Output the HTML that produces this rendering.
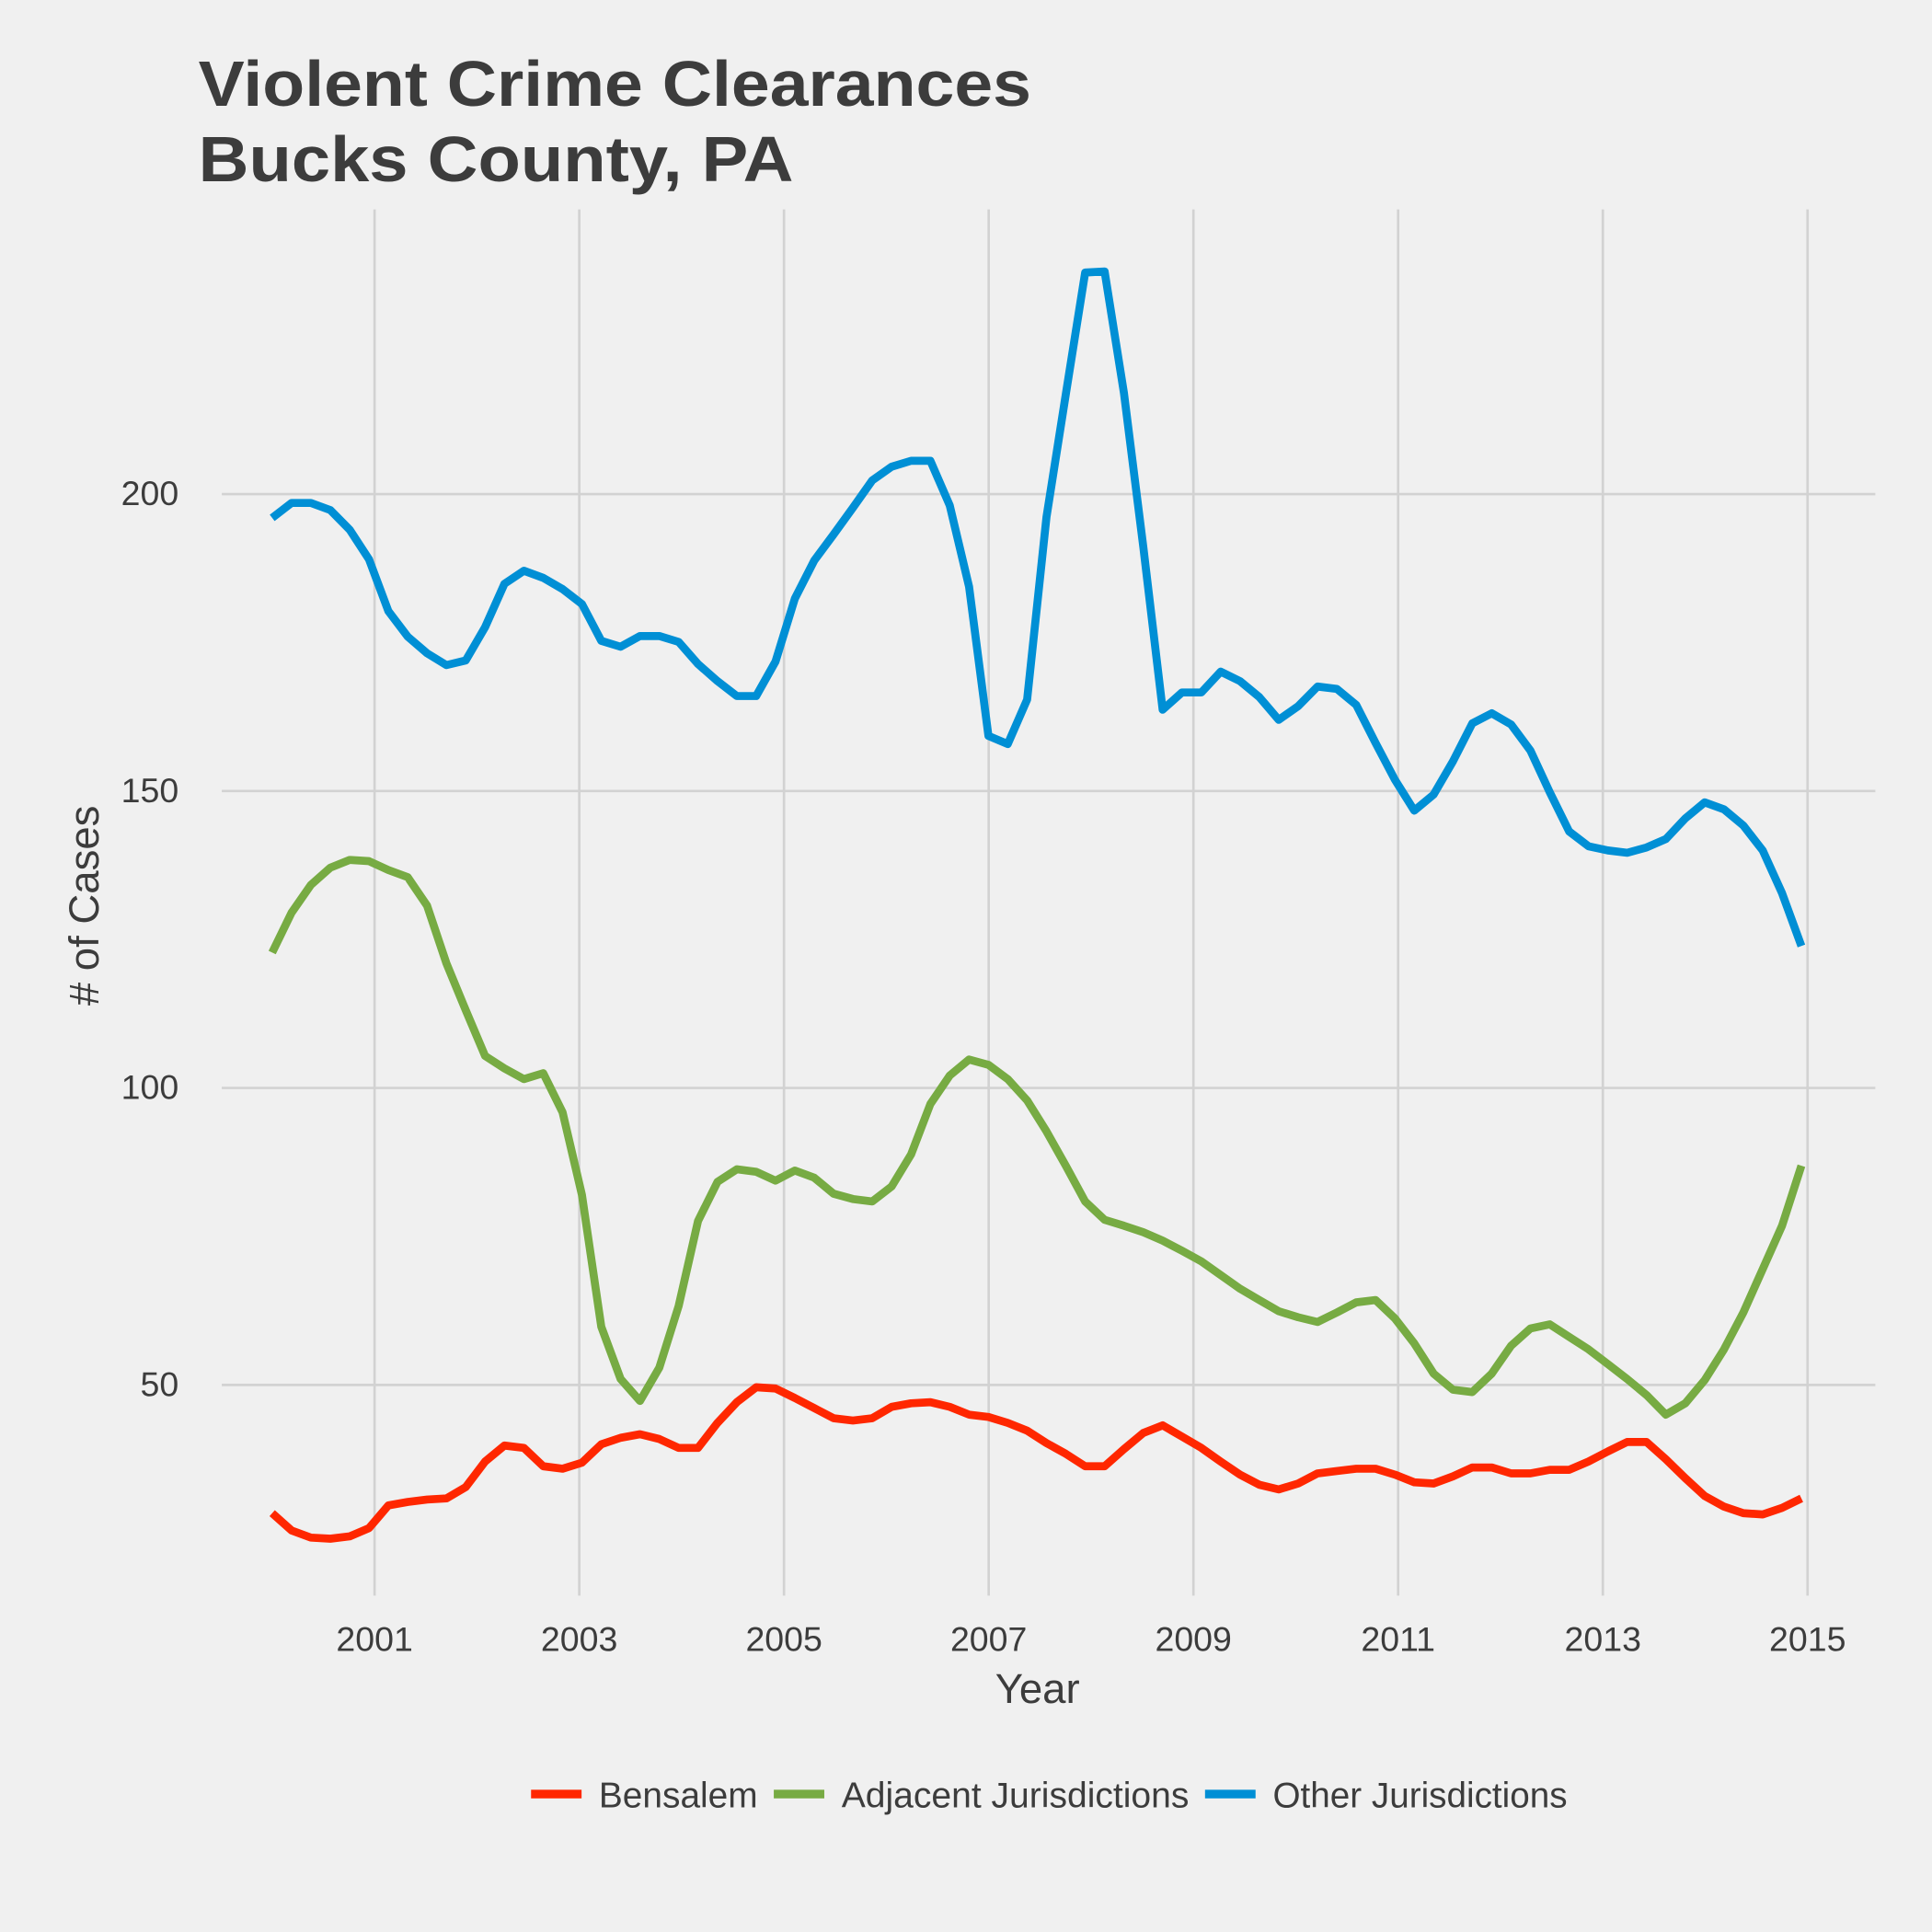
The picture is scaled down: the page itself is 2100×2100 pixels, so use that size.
<!DOCTYPE html>
<html><head><meta charset="utf-8"><style>
html,body{margin:0;padding:0;background:#f0f0f0;}
svg{display:block;font-family:"Liberation Sans",Arial,sans-serif;}
</style></head><body>
<svg id="chart" width="2100" height="2100" viewBox="0 0 1568 1568" xmlns="http://www.w3.org/2000/svg">
<rect x="0" y="0" width="1568" height="1568" fill="#f0f0f0"/>
<text x="161" y="86" font-size="52" font-weight="bold" fill="#3c3c3c" textLength="676" lengthAdjust="spacingAndGlyphs">Violent Crime Clearances</text>
<text x="161" y="147" font-size="52" font-weight="bold" fill="#3c3c3c" textLength="483" lengthAdjust="spacingAndGlyphs">Bucks County, PA</text>
<g id="grid"></g>
<g id="series"></g>
<g id="ticks"></g>
<text x="842" y="1382" font-size="34" text-anchor="middle" fill="#3c3c3c">Year</text>
<text x="0" y="0" font-size="34" text-anchor="middle" fill="#3c3c3c" transform="translate(80,735) rotate(-90)"># of Cases</text>
<g>
<line x1="431" y1="1456" x2="472" y2="1456" stroke="#ff2700" stroke-width="7"/>
<text x="486" y="1467" font-size="29" fill="#3c3c3c" textLength="129" lengthAdjust="spacingAndGlyphs">Bensalem</text>
<line x1="628" y1="1456" x2="669" y2="1456" stroke="#77ab43" stroke-width="7"/>
<text x="683" y="1467" font-size="29" fill="#3c3c3c" textLength="282" lengthAdjust="spacingAndGlyphs">Adjacent Jurisdictions</text>
<line x1="978" y1="1456" x2="1019" y2="1456" stroke="#008fd5" stroke-width="7"/>
<text x="1033" y="1467" font-size="29" fill="#3c3c3c" textLength="239" lengthAdjust="spacingAndGlyphs">Other Jurisdictions</text>
</g>
</svg>
<script>
const startYear = 2000;
const endYear = 2014.94;
const xTicks = [2001,2003,2005,2007,2009,2011,2013,2015];
const yTicks = [50,100,150,200];
const bensalem = [28.4,25.5,24.3,24.1,24.5,25.9,29.7,30.3,30.7,30.9,32.8,37.1,39.8,39.4,36.3,35.9,36.9,40,41.1,41.7,40.9,39.4,39.4,43.6,47.1,49.6,49.4,47.8,46.1,44.4,44,44.4,46.3,46.9,47.1,46.3,45,44.6,43.6,42.3,40.2,38.4,36.3,36.3,39.2,41.9,43.2,41.3,39.4,37.1,34.9,33.2,32.4,33.4,35.1,35.5,35.9,35.9,34.9,33.6,33.4,34.6,36.1,36.1,35.1,35.1,35.7,35.7,37.1,38.8,40.4,40.4,37.5,34.3,31.3,29.5,28.4,28.2,29.3,30.9];
const adjacent = [122.8,129.5,134.2,137.1,138.4,138.2,136.7,135.5,130.7,121,113.1,105.4,103.3,101.5,102.5,95.9,82,59.8,51,47.3,52.9,63.3,77.6,84.2,86.3,85.9,84.4,86.1,84.9,82.2,81.3,80.9,83.4,88.8,97.3,102.1,104.8,103.9,101.5,97.9,92.7,86.9,80.9,77.8,76.8,75.7,74.3,72.6,70.8,68.5,66.2,64.3,62.4,61.4,60.6,62.2,63.9,64.3,61.2,57,51.9,49.2,48.8,51.9,56.6,59.5,60.2,58.1,56,53.5,51,48.3,45,46.9,50.8,56,62.2,69.5,76.8,86.9];
const other = [196,198.5,198.5,197.3,194,189,180.3,176,173.2,171.2,172,177.6,184.9,187.1,185.9,184,181.5,175.3,174.3,176.1,176.1,175.1,171.4,168.5,166,166,171.8,182.4,188.8,193.2,197.7,202.3,204.6,205.6,205.6,198.1,184.4,159.3,157.9,165.4,196.1,216.8,237.3,237.5,217,191.1,163.7,166.6,166.6,170.1,168.5,165.8,162,164.3,167.6,167.2,164.5,158.1,151.9,146.7,149.4,155,161.4,163.1,161.2,156.8,149.8,143.2,140.7,140,139.6,140.5,141.9,145.4,148.1,146.9,144.2,140,132.8,123.9];

const NS='http://www.w3.org/2000/svg';
const xs = yr => 304 + (yr-2001)*(1467-304)/14;
const ys = v => 401 + (200-v)*(1124-401)/150;
const grid=document.getElementById('grid'), ticks=document.getElementById('ticks'), series=document.getElementById('series');
function mk(tag,attrs){const e=document.createElementNS(NS,tag);for(const k in attrs)e.setAttribute(k,attrs[k]);return e;}
yTicks.forEach(v=>{
  const l=mk('line',{x1:180,x2:1522,y1:ys(v),y2:ys(v),stroke:'#d2d2d2','stroke-width':2});
  
  
  grid.appendChild(l);
  const t=mk('text',{x:145,y:ys(v)+9,'font-size':28,'text-anchor':'end',fill:'#3c3c3c'});
  t.textContent=v;
  
  
  ticks.appendChild(t);
});
xTicks.forEach(yr=>{
  const l=mk('line',{x1:xs(yr),x2:xs(yr),y1:170,y2:1295,stroke:'#d2d2d2','stroke-width':2});
  
  
  grid.appendChild(l);
  const t=mk('text',{x:xs(yr),y:1340,'font-size':28,'text-anchor':'middle',fill:'#3c3c3c'});
  t.textContent=yr;
  
  
  ticks.appendChild(t);
});
function draw(vals,color,name){
  const n=vals.length;
  const d=vals.map((v,i)=>(i?'L':'M')+xs(startYear+i*(endYear-startYear)/(n-1)).toFixed(1)+','+ys(v).toFixed(1)).join(' ');
  const p=mk('path',{d:d,fill:'none',stroke:color,'stroke-width':6.5,'stroke-linejoin':'round'});
  
  
  series.appendChild(p);
}
draw(bensalem,'#ff2700','line-bensalem');
draw(adjacent,'#77ab43','line-adjacent-jurisdictions');
draw(other,'#008fd5','line-other-jurisdictions');
</script>
</body></html>
